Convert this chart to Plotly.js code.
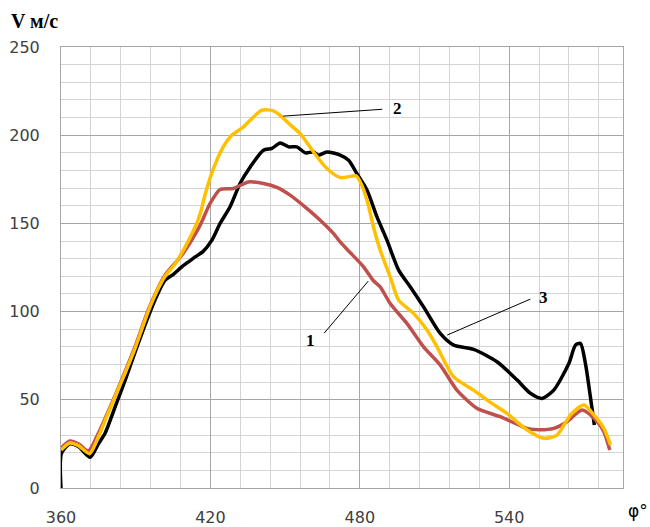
<!DOCTYPE html>
<html>
<head>
<meta charset="utf-8">
<script src="https://cdn.plot.ly/plotly-3.0.1.min.js"></script>
<style>html,body{margin:0;padding:0;background:#fff;}#chart{width:650px;height:527px;}</style>
</head>
<body>
<div id="chart"></div>
<script>
// Series 1 (red)
const x1 = [360, 363.6, 367, 371, 375, 378.5, 382.4, 386, 389.7, 395, 398.5, 401.8, 405.8, 409, 412.5, 415.9, 419.9, 423.9, 429.2, 435.3, 441.3, 446.7, 452, 458.7, 464.1, 469.4, 472.1, 476.1, 481.5, 485.5, 488.2, 492.2, 498.9, 505.6, 512.3, 519, 527, 536.4, 547.2, 552, 557.9, 563.2, 569.3, 575.3, 578, 580.4];
const y1 = [22.5, 26.6, 25, 21, 31, 42, 54.6, 67, 80, 100.8, 112, 120.7, 127.5, 133, 140.5, 149, 161.3, 169.2, 169.8, 173.5, 172.6, 170.4, 166, 158.5, 151.8, 144.3, 139.5, 133.5, 125.4, 117.5, 114, 104.6, 93.3, 80, 69.7, 55.5, 45.2, 40.4, 33.8, 33, 33.8, 37.6, 44.2, 37.6, 31.9, 21.5];
// Series 2 (yellow)
const x2 = [360, 363.6, 367, 371.5, 375, 378.5, 382.4, 386, 389.7, 395, 398.5, 401.8, 405.8, 410, 414.5, 416, 418, 421.2, 425, 428.6, 433.3, 436, 440.7, 445.3, 448.7, 452, 456, 461.4, 466.8, 472.1, 476.8, 478.5, 480.2, 482.9, 485.5, 488.2, 492.2, 495.6, 501.6, 507, 511, 517.7, 525.7, 532, 539.1, 547.2, 553.9, 559.2, 564.6, 570, 574, 578, 580.7];
const y2 = [21.5, 25.5, 24, 19.5, 29, 41, 54, 66, 79, 100, 111.5, 120, 127, 137, 150, 156, 167, 181, 193, 200, 204.7, 208.5, 214.2, 213.8, 210.4, 206, 201, 190.5, 181.1, 176, 176.8, 177, 173.5, 163.2, 148, 134.8, 119.7, 106.5, 99, 89.5, 80, 63, 55.5, 49, 42.3, 32.9, 28.2, 30, 41.4, 47, 41.4, 33.8, 24.4];
// Series 3 (black)
const x3 = [360, 360.2, 363.6, 367, 371.7, 375, 377.7, 382, 386, 390, 395, 398.5, 401.8, 405, 408.5, 411, 413.9, 417, 420.6, 423.9, 427.9, 431.9, 436, 441.3, 444.7, 448, 451.4, 454.7, 458.1, 461.4, 463.4, 466.8, 472.1, 475.5, 478.8, 482.9, 486.9, 490.9, 495.6, 500.3, 505.6, 512.3, 517.7, 525.7, 535.1, 543.2, 548.5, 553.2, 557.9, 564, 566.6, 568.6, 570.6, 572.6, 574.2];
const y3 = [0, 19.8, 25, 23.5, 17.4, 25, 31, 47, 62, 78, 97, 109, 117.8, 121, 125.4, 128, 131, 134, 140.5, 150, 159.4, 172.6, 182, 191.5, 192.5, 195.6, 193.4, 193.4, 190, 190.5, 188.7, 190.5, 188.7, 185.8, 178.3, 168.8, 153.7, 140.5, 123.5, 114, 102.7, 87.6, 81, 78.6, 71.6, 61.2, 53.7, 50.8, 55.5, 70.7, 81, 82, 70.7, 51.7, 35.7];

const xTicks = [360, 420, 480, 540];
const yTicks = [0, 50, 100, 150, 200, 250];

// Curve labels and leader lines
const labelText = ['1', '2', '3'];
const labelX = [460.1, 495.0, 553.7];
const labelY = [83.9, 215, 108.2];
const leadX0 = [465.7, 449.2, 515.1];
const leadY0 = [87.8, 210.8, 86.7];
const leadX1 = [483.4, 489.0, 548.5];
const leadY1 = [117.3, 214.7, 107.1];

const traces = [
  {x: x3, y: y3, mode: 'lines', line: {color: '#000000', width: 3.5, shape: 'spline', smoothing: 0.7}, name: '3'},
  {x: x1, y: y1, mode: 'lines', line: {color: '#C0504D', width: 3.5, shape: 'spline', smoothing: 0.7}, name: '1'},
  {x: x2, y: y2, mode: 'lines', line: {color: '#FFC000', width: 3.5, shape: 'spline', smoothing: 0.7}, name: '2'}
];

const annotations = labelText.map((t, i) => ({
  x: labelX[i], y: labelY[i], xref: 'x', yref: 'y', text: '<b>' + t + '</b>', showarrow: false,
  font: {family: 'Liberation Serif', size: 17, color: '#000'}
}));
annotations.push({
  xref: 'paper', yref: 'paper', x: 1.005, y: -0.053, xanchor: 'left', yanchor: 'middle',
  text: 'φ°', showarrow: false, font: {family: 'DejaVu Sans', size: 17, color: '#000'}
});

const shapes = labelText.map((t, i) => ({
  type: 'line', xref: 'x', yref: 'y', x0: leadX0[i], y0: leadY0[i], x1: leadX1[i], y1: leadY1[i],
  line: {color: '#000', width: 1}
}));

const layout = {
  width: 650, height: 527,
  margin: {l: 61, r: 27, t: 47, b: 39},
  paper_bgcolor: '#fff', plot_bgcolor: '#fff',
  showlegend: false,
  title: {text: '<b>V м/с</b>', x: 11/650, xanchor: 'left', xref: 'container', y: 1 - 21/527, yanchor: 'middle', yref: 'container',
    font: {family: 'Liberation Serif', size: 20, color: '#000'}},
  xaxis: {
    range: [360, 585.7], tickmode: 'array', tickvals: xTicks, ticktext: xTicks.map(String),
    showgrid: true, gridcolor: '#a6a6a6', gridwidth: 1,
    minor: {dtick: 12, tick0: 360, showgrid: true, gridcolor: '#d4d4d4', gridwidth: 1},
    showline: true, mirror: true, linecolor: '#a6a6a6', linewidth: 1,
    ticks: '', zeroline: false, automargin: false, ticklabelstandoff: 15,
    tickfont: {family: 'DejaVu Sans', size: 16, color: '#404040'}
  },
  yaxis: {
    range: [0, 250], tickmode: 'array', tickvals: yTicks, ticktext: yTicks.map(String),
    showgrid: true, gridcolor: '#a6a6a6', gridwidth: 1,
    minor: {dtick: 10, tick0: 0, showgrid: true, gridcolor: '#d4d4d4', gridwidth: 1},
    showline: true, mirror: true, linecolor: '#a6a6a6', linewidth: 1,
    ticks: '', zeroline: false, automargin: false, ticklabelstandoff: 17,
    tickfont: {family: 'DejaVu Sans', size: 16, color: '#404040'}
  },
  annotations: annotations,
  shapes: shapes
};

Plotly.newPlot('chart', traces, layout, {displayModeBar: false, staticPlot: true});
</script>
</body>
</html>
